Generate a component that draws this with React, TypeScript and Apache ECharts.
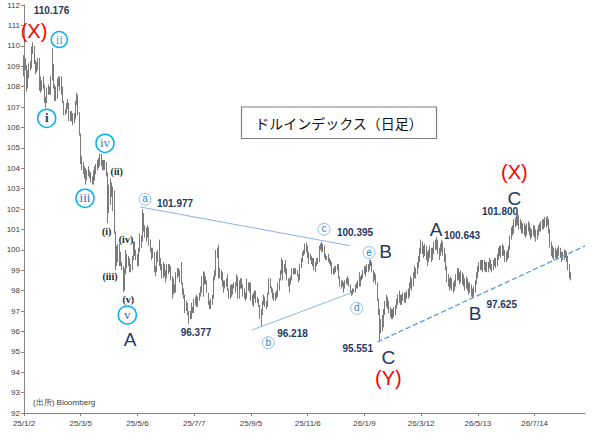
import React, { useEffect, useRef } from 'react';
import * as echarts from 'echarts';

// x-axis tick labels (one every 44 trading days)
const tickLabels = ['25/1/2', '25/3/5', '25/5/6', '25/7/7', '25/9/5', '25/11/6', '26/1/9', '26/3/12', '26/5/13', '26/7/14'];
const AXIS_SLOTS = 436;
const firstOpen = 108.6;

// daily bars: [close, high, low]
const jan25 = [[109.39,109.54,108.5],[108.95,109.38,108.8],[108.26,109.05,107.75],[108.54,108.8,107.9],[109.05,109.14,108.4],[109.18,109.27,108.8],[109.65,109.96,108.9],[109.94,110.18,109.6],[109.21,110.0,109.1],[109.05,109.3,108.6],[109.0,109.2,108.7],[109.35,109.4,108.8],[108.0,109.4,107.8],[108.08,108.5,107.7],[108.24,108.3,107.8],[108.08,108.5,107.9],[107.44,108.1,107.2],[107.35,107.5,106.97],[107.85,107.95,107.2],[107.98,108.1,107.6],[107.8,108.0,107.6],[108.37,108.5,107.6]];
const feb25 = [[108.9,109.88,108.3],[108.0,109.1,107.9],[107.6,108.1,107.3],[107.7,108.0,107.3],[108.0,108.4,107.4],[108.3,108.5,108.0],[107.96,108.5,107.8],[107.95,108.5,107.6],[107.3,108.0,107.2],[106.7,107.3,106.6],[106.8,106.9,106.6],[107.1,107.2,106.7],[107.2,107.4,106.9],[106.4,107.2,106.3],[106.6,106.8,106.3],[106.6,106.8,106.3],[106.3,106.7,106.1],[106.4,106.7,106.2],[107.25,107.3,106.4],[107.6,107.7,107.1]];
const mar25 = [[106.75,107.6,106.6],[105.6,106.7,105.6],[104.3,105.7,104.2],[104.1,104.6,103.9],[103.8,104.3,103.7],[103.9,104.1,103.5],[103.5,104.0,103.2],[103.6,103.9,103.4],[103.8,104.1,103.6],[103.7,103.9,103.5],[103.4,103.8,103.3],[103.3,103.6,103.2],[103.4,103.9,103.2],[103.9,104.1,103.4],[104.1,104.2,103.7],[104.3,104.4,103.9],[104.2,104.5,104.0],[104.5,104.7,104.1],[104.3,104.7,104.1],[104.0,104.4,103.9],[104.2,104.4,103.9]];
const apr25 = [[104.2,104.4,103.9],[103.8,104.3,103.6],[102.1,103.6,101.3],[103.0,103.2,101.8],[103.3,103.5,102.2],[102.9,103.3,102.6],[102.9,103.1,101.9],[100.9,102.9,100.8],[100.1,100.9,99.0],[99.6,100.2,99.2],[100.2,100.3,99.4],[99.4,100.3,99.2],[99.4,99.9,99.2],[99.2,99.4,99.0],[98.3,99.2,97.92],[98.9,99.1,98.0],[99.8,100.0,98.8],[99.3,99.7,99.1],[99.6,99.7,99.2],[99.0,99.6,98.9],[99.2,99.3,98.9],[99.5,99.7,99.0]];
const may25 = [[100.2,100.4,99.5],[100.0,100.4,99.7],[99.8,100.0,99.5],[99.2,99.8,99.2],[99.9,100.1,99.2],[100.6,100.8,99.9],[100.4,100.7,100.1],[101.8,101.98,100.7],[101.0,101.8,100.9],[101.0,101.2,100.6],[100.8,101.1,100.4],[101.1,101.2,100.6],[100.4,100.7,100.2],[100.0,100.5,99.9],[99.6,100.1,99.5],[99.9,100.1,99.6],[99.1,99.9,98.9],[98.9,99.2,98.7],[99.5,99.9,98.9],[99.9,100.0,99.4],[99.3,100.5,99.2],[99.3,99.6,99.0]];
const jun25 = [[98.7,99.3,98.6],[99.2,99.4,98.6],[98.8,99.3,98.7],[98.8,99.0,98.4],[99.2,99.3,98.6],[99.0,99.3,98.8],[99.1,99.3,98.9],[98.6,99.2,98.5],[97.9,98.7,97.6],[98.2,98.6,97.8],[98.0,98.3,97.9],[98.8,98.9,97.9],[98.9,99.1,98.6],[98.9,99.1,98.7],[98.7,99.0,98.4],[98.4,99.4,98.3],[97.9,98.4,97.8],[97.7,98.1,97.6],[97.2,97.8,96.9],[97.4,97.5,97.0],[96.9,97.4,96.8]];
const jul25 = [[96.8,97.0,96.38],[96.8,97.0,96.6],[97.2,97.4,96.6],[97.0,97.2,96.9],[97.5,97.6,96.9],[97.5,97.7,97.3],[97.5,97.8,97.2],[97.6,97.7,97.2],[97.9,97.9,97.5],[98.1,98.2,97.7],[98.6,98.7,97.9],[98.4,98.95,97.7],[98.7,98.9,98.3],[98.5,98.7,98.3],[97.9,98.5,97.9],[97.4,97.9,97.3],[97.2,97.5,97.1],[97.4,97.6,97.1],[97.6,97.8,97.3],[98.6,98.7,97.6],[98.9,99.0,98.5],[99.8,99.99,98.7],[100.0,100.1,99.6]];
const aug25 = [[98.7,100.25,98.6],[98.8,99.1,98.6],[98.8,99.0,98.5],[98.2,98.9,98.2],[98.4,98.5,97.9],[98.2,98.5,98.1],[98.5,98.6,98.2],[98.1,98.8,98.0],[97.8,98.1,97.6],[98.2,98.3,97.6],[97.8,98.3,97.7],[98.2,98.3,97.8],[98.3,98.4,98.1],[98.2,98.4,97.9],[98.6,98.8,98.2],[97.7,98.7,97.6],[98.4,98.5,97.6],[98.2,98.6,98.1],[98.2,98.6,98.1],[97.8,98.3,97.7],[97.8,98.1,97.6]];
const sep25 = [[97.7,97.9,97.5],[98.4,98.6,97.6],[98.1,98.4,98.0],[98.3,98.4,97.9],[97.7,98.4,97.5],[97.4,97.8,97.3],[97.8,97.9,97.2],[97.8,98.0,97.6],[97.5,98.0,97.4],[97.6,97.7,97.4],[97.3,97.6,97.2],[96.6,97.3,96.6],[96.9,97.1,96.22],[97.3,97.5,96.8],[97.6,97.8,97.3],[97.3,97.7,97.2],[97.3,97.5,97.1],[97.9,97.9,97.2],[98.5,98.6,97.8],[98.2,98.6,98.1],[97.9,98.2,97.9],[97.8,98.1,97.6]];
const oct25 = [[97.7,97.9,97.5],[97.9,97.9,97.5],[97.7,98.0,97.6],[98.1,98.4,97.9],[98.6,98.6,98.0],[98.9,99.0,98.5],[99.5,99.6,98.8],[98.9,99.5,98.5],[99.3,99.3,98.9],[99.0,99.5,98.8],[98.6,99.1,98.5],[98.3,98.6,98.2],[98.5,98.6,97.9],[98.6,98.7,98.3],[98.9,99.1,98.5],[98.9,99.1,98.8],[98.9,99.1,98.8],[98.9,99.1,98.8],[98.8,99.0,98.7],[98.7,98.8,98.4],[99.2,99.3,98.5],[99.5,99.6,99.1],[99.8,99.9,99.4]];
const nov25 = [[99.9,100.0,99.7],[100.2,100.3,99.8],[100.2,100.36,99.9],[99.7,100.2,99.6],[99.6,99.9,99.3],[99.6,99.8,99.5],[99.4,99.7,99.3],[99.5,99.6,99.2],[99.2,99.6,99.0],[99.3,99.4,98.9],[99.6,99.6,99.2],[99.5,99.6,99.3],[100.2,100.2,99.4],[100.2,100.3,100.0],[100.2,100.395,99.9],[100.2,100.3,99.9],[99.8,100.2,99.6],[99.6,99.8,99.5],[99.6,99.7,99.5],[99.5,99.8,99.4]];
const dec25 = [[99.4,99.6,99.3],[99.4,99.5,99.2],[98.9,99.4,98.8],[99.0,99.1,98.8],[99.0,99.2,98.8],[99.1,99.2,98.9],[99.2,99.3,99.0],[98.6,99.3,98.6],[98.3,98.7,98.2],[98.4,98.5,98.1],[98.3,98.5,98.2],[98.2,98.4,97.9],[98.4,98.5,98.1],[98.4,98.6,98.3],[98.6,98.7,98.3],[98.3,98.6,98.2],[97.9,98.3,97.9],[97.9,98.0,97.75],[98.0,98.1,97.8],[98.0,98.1,97.9],[98.2,98.3,97.9],[98.3,98.4,98.1]];
const jan26 = [[98.4,98.5,98.1],[98.3,98.9,98.2],[98.6,98.7,98.2],[98.7,98.8,98.5],[98.9,99.0,98.6],[99.1,99.2,98.8],[98.9,99.2,98.7],[99.2,99.3,98.9],[99.1,99.3,98.9],[99.3,99.5,99.0],[99.4,99.5,99.2],[99.0,99.4,98.9],[98.6,99.0,98.4],[98.8,98.9,98.5],[98.4,98.8,98.3],[97.6,98.4,97.5],[97.0,97.6,96.8],[96.2,97.1,95.55],[96.4,96.6,95.9],[96.3,96.8,96.0],[96.9,97.1,96.2]];
const feb26 = [[97.3,97.5,96.8],[97.6,97.8,97.2],[97.4,97.7,97.1],[97.0,97.5,96.9],[96.9,97.2,96.7],[96.8,97.1,96.6],[97.0,97.1,96.6],[96.9,97.2,96.7],[97.2,97.3,96.8],[97.5,97.6,97.1],[97.6,97.8,97.3],[97.7,98.0,97.4],[97.5,97.8,97.3],[97.6,97.8,97.3],[97.8,97.9,97.5],[97.6,97.9,97.4],[97.7,97.9,97.4],[97.9,98.0,97.6],[97.8,98.1,97.6],[98.2,98.4,97.7]];
const mar26 = [[98.5,98.7,98.1],[98.3,98.6,98.0],[98.7,98.9,98.2],[99.0,99.2,98.6],[98.8,99.1,98.6],[99.2,99.4,98.8],[99.5,99.7,99.1],[99.8,100.1,99.4],[100.2,100.5,99.8],[100.0,100.4,99.8],[99.8,100.2,99.6],[100.1,100.3,99.7],[99.7,100.2,99.5],[99.5,99.9,99.2],[99.8,100.0,99.4],[100.0,100.2,99.6],[99.6,100.1,99.4],[99.9,100.1,99.5],[100.2,100.4,99.8],[100.3,100.5,100.0],[100.4,100.64,100.0],[100.0,100.5,99.8]];
const apr26 = [[99.8,100.1,99.5],[100.1,100.3,99.7],[100.3,100.5,99.9],[99.9,100.4,99.7],[99.7,100.1,99.4],[99.2,99.8,99.0],[98.6,99.2,98.4],[98.4,98.8,98.2],[98.3,98.6,98.0],[98.5,98.7,98.1],[98.2,98.6,98.0],[98.1,98.4,97.9],[98.4,98.5,98.0],[98.6,98.8,98.2],[98.9,99.1,98.5],[98.7,99.1,98.5],[98.5,98.9,98.3],[98.8,99.0,98.4],[98.6,98.9,98.3],[98.4,98.8,98.2],[98.3,98.6,98.0],[98.5,98.7,98.1]];
const may26 = [[98.2,98.6,98.0],[98.0,98.4,97.8],[98.2,98.4,97.9],[97.9,98.3,97.7],[97.8,98.1,97.63],[98.1,98.2,97.7],[98.4,98.5,97.9],[98.8,98.9,98.3],[99.1,99.2,98.6],[99.3,99.4,98.9],[99.2,99.5,99.0],[99.4,99.5,99.0],[99.1,99.5,98.9],[99.3,99.5,99.0],[99.2,99.4,98.9],[99.0,99.4,98.9],[99.3,99.4,98.9],[99.4,99.6,99.1],[99.2,99.5,99.0],[99.0,99.3,98.9],[99.3,99.5,99.0]];
const jun26 = [[99.5,99.6,99.2],[99.3,99.6,99.1],[99.6,99.8,99.2],[99.9,100.1,99.5],[100.0,100.2,99.7],[99.8,100.2,99.6],[100.1,100.3,99.7],[99.9,100.2,99.7],[99.6,100.0,99.4],[99.8,99.9,99.4],[99.7,100.0,99.5],[100.1,100.2,99.6],[100.6,100.7,100.0],[101.0,101.1,100.5],[100.9,101.2,100.7],[101.3,101.5,100.8],[101.5,101.6,101.1],[101.4,101.7,101.2],[101.6,101.8,101.2],[101.2,101.7,101.0],[101.3,101.5,101.0],[100.9,101.4,100.8]];
const jul26 = [[101.1,101.3,100.8],[101.0,101.3,100.7],[100.8,101.2,100.6],[101.1,101.3,100.7],[101.2,101.4,100.9],[100.9,101.3,100.7],[100.7,101.1,100.5],[100.9,101.0,100.6],[101.1,101.2,100.7],[100.8,101.2,100.6],[100.6,101.0,100.4],[100.8,101.0,100.5],[101.0,101.2,100.7],[101.2,101.3,100.9],[101.1,101.4,100.9],[101.3,101.5,101.0],[101.2,101.5,101.0],[101.4,101.6,101.1],[101.3,101.6,101.1],[101.5,101.65,101.2],[101.0,101.5,100.8],[100.3,101.0,100.1],[99.9,100.4,99.7]];
const aug26 = [[100.0,100.2,99.6],[99.8,100.1,99.5],[99.9,100.1,99.6],[99.7,100.0,99.5],[99.9,100.1,99.6],[100.0,100.2,99.7],[99.8,100.1,99.6],[99.6,99.9,99.4],[99.8,99.9,99.5],[99.7,100.0,99.5],[99.9,100.0,99.6],[99.6,99.9,99.4],[99.2,99.7,99.0],[98.8,99.3,98.6],[98.7,98.9,98.5]];

const months = [jan25, feb25, mar25, apr25, may25, jun25, jul25, aug25, sep25, oct25, nov25, dec25, jan26, feb26, mar26, apr26, may26, jun26, jul26, aug26];

// trend lines: [startIndex, startValue, endIndex, endValue]
const upperLine = [90, 102.1, 253, 100.2];
const lowerLine = [177, 96.07, 253, 97.87];
const trendLine = [274, 95.48, 435, 100.19];

const NAVY = '#1f3864';
const BAR = '#7a7a7a';
const numFont = 'bold 10px "Liberation Sans", Arial, sans-serif';
const bigFont = '19px "Liberation Sans", Arial, sans-serif';
const redFont = '20px "Liberation Sans", Arial, sans-serif';
const subFont = 'bold 10px "Liberation Serif", serif';

function txt(x: number, y: number, text: string, font: string, fill: string) {
  return { type: 'text', x, y, z: 100, style: { text, font, fill, textAlign: 'center', textVerticalAlign: 'middle' } };
}
function roman(x: number, y: number, r: number, text: string, fill: string, bold = false) {
  return {
    type: 'group', z: 100,
    children: [
      { type: 'circle', z: 100, shape: { cx: x, cy: y, r }, style: { fill: '#ffffff', stroke: '#00b0f0', lineWidth: 1.5 } },
      { type: 'text', z: 101, x, y: y - 0.5, style: { text, font: (bold ? 'bold ' : '') + '13px "Liberation Serif", serif', fill, textAlign: 'center', textVerticalAlign: 'middle' } },
    ],
  };
}
function small(x: number, y: number, text: string) {
  return {
    type: 'group', z: 100,
    children: [
      { type: 'circle', z: 100, shape: { cx: x, cy: y, r: 6 }, style: { fill: '#ffffff', stroke: '#8fc1ea', lineWidth: 1 } },
      { type: 'text', z: 101, x, y: y - 0.5, style: { text, font: '10px "Liberation Sans", sans-serif', fill: '#2e86d0', textAlign: 'center', textVerticalAlign: 'middle' } },
    ],
  };
}

export default function App() {
  const ref = useRef<HTMLDivElement>(null);
  useEffect(() => {
    document.body.style.margin = '0';
    const chart = echarts.init(ref.current!, null, { renderer: 'svg' });
    const bars = months.flat();
    let prev = firstOpen;
    const ohlc = bars.map(([c, h, l]) => {
      const o = prev;
      prev = c;
      return [o, c, Math.min(l, o, c), Math.max(h, o, c)];
    });
    const cats = Array.from({ length: AXIS_SLOTS }, (_, i) => String(i));
    const seg = (p: number[], color: string, type: string, width: number) => [
      { coord: [p[0], p[1]], lineStyle: { color, type, width } },
      { coord: [p[2], p[3]] },
    ];
    chart.setOption({
      animation: false,
      grid: { left: 24, right: 19, top: 5, bottom: 31, containLabel: false },
      xAxis: {
        type: 'category',
        data: cats,
        boundaryGap: false,
        axisLine: { lineStyle: { color: '#868686', width: 1 } },
        axisTick: { interval: 43, length: 3, lineStyle: { color: '#868686' } },
        axisLabel: {
          interval: 43,
          fontSize: 8,
          color: '#404040',
          margin: 6,
          fontFamily: '"Liberation Sans", Arial, sans-serif',
          formatter: (_v: string, i: number) => tickLabels[Math.round(i / 44)] ?? '',
        },
        splitLine: { show: false },
      },
      yAxis: {
        type: 'value',
        min: 92,
        max: 112,
        interval: 1,
        axisLine: { show: true, lineStyle: { color: '#868686', width: 1 } },
        axisTick: { show: true, length: 3, lineStyle: { color: '#868686' } },
        axisLabel: { fontSize: 8, color: '#404040', margin: 4, fontFamily: '"Liberation Sans", Arial, sans-serif' },
        splitLine: { show: false },
      },
      series: [
        {
          type: 'candlestick',
          data: ohlc,
          barWidth: 1,
          itemStyle: { color: BAR, color0: BAR, borderColor: BAR, borderColor0: BAR, borderWidth: 1 },
          markLine: {
            silent: true,
            symbol: ['none', 'none'],
            label: { show: false },
            data: [
              seg(upperLine, '#8db4e2', 'solid', 1),
              seg(lowerLine, '#8db4e2', 'solid', 1),
              seg(trendLine, '#5b9bd5', 'dashed', 1.3),
            ],
          },
        },
      ],
      graphic: [
        { type: 'rect', z: 100, shape: { x: 241.5, y: 107, width: 195, height: 31.5 }, style: { fill: '#ffffff', stroke: '#7f7f7f', lineWidth: 1.2 } },
        txt(339, 123, 'ドルインデックス（日足）', '14px "Noto Sans CJK JP", sans-serif', '#111111'),
        { type: 'text', z: 100, x: 33, y: 402, style: { text: '(出所) Bloomberg', font: '8px "Liberation Sans", sans-serif', fill: '#404040', textAlign: 'left', textVerticalAlign: 'middle' } },
        txt(51.5, 10.5, '110.176', numFont, NAVY),
        txt(34, 31, '(X)', redFont, '#ff0000'),
        roman(59.3, 39.5, 8, 'ii', '#5b9bd5'),
        roman(46.7, 118.3, 9, 'i', NAVY, true),
        roman(105, 143.3, 9, 'iv', '#4f81bd'),
        roman(85, 198.3, 9, 'iii', '#2e75b6'),
        roman(127.3, 315, 9, 'v', '#2e75b6'),
        txt(116.7, 171.7, '(ii)', subFont, '#262626'),
        txt(106.7, 231.7, '(i)', subFont, '#262626'),
        txt(126, 239.3, '(iv)', subFont, '#262626'),
        txt(110, 276.7, '(iii)', subFont, '#262626'),
        txt(128.3, 299.3, '(v)', subFont, '#262626'),
        txt(130, 339.3, 'A', bigFont, NAVY),
        small(145, 199.3, 'a'),
        txt(175, 203.5, '101.977', numFont, NAVY),
        txt(196, 332.5, '96.377', numFont, NAVY),
        small(268.3, 342.7, 'b'),
        txt(292.5, 333.3, '96.218', numFont, NAVY),
        small(324, 229.3, 'c'),
        txt(355, 232.3, '100.395', numFont, NAVY),
        small(356.7, 308.3, 'd'),
        small(369, 252.7, 'e'),
        txt(385.7, 251.7, 'B', bigFont, NAVY),
        txt(357.7, 348, '95.551', numFont, NAVY),
        txt(388.3, 357.3, 'C', bigFont, NAVY),
        txt(388.3, 378.3, '(Y)', redFont, '#ff0000'),
        txt(436, 229, 'A', bigFont, NAVY),
        txt(462, 235, '100.643', numFont, NAVY),
        txt(475, 313.3, 'B', bigFont, NAVY),
        txt(501.7, 304.3, '97.625', numFont, NAVY),
        txt(514.3, 198.3, 'C', bigFont, NAVY),
        txt(500, 211.7, '101.800', numFont, NAVY),
        txt(514.3, 171.7, '(X)', redFont, '#ff0000'),
      ],
    });
    return () => chart.dispose();
  }, []);
  return <div ref={ref} style={{ width: 604, height: 444 }} />;
}
